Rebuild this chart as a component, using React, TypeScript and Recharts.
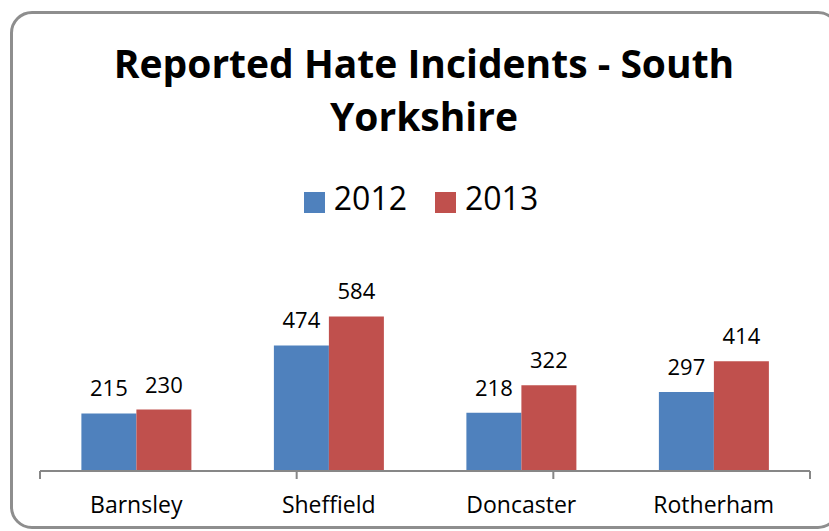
import { BarChart, Bar, XAxis, YAxis, Legend, LabelList } from 'recharts'

const FONT = '"Open Sans", sans-serif'
const AXIS = '#878787'
const BLUE = '#4F81BD'
const RED = '#C0504D'

const DISTRICTS = ['Barnsley', 'Sheffield', 'Doncaster', 'Rotherham']
const VALUES_2012 = [215, 474, 218, 297]
const VALUES_2013 = [230, 584, 322, 414]
const BOUNDARY_TICKS = [0, 1, 2, 3, 4]

const data = DISTRICTS.map((name, i) => ({
  name,
  y2012: VALUES_2012[i],
  y2013: VALUES_2013[i],
}))

function LegendContent({ payload }: { payload?: any[] }) {
  return (
    <div style={{ display: 'flex', justifyContent: 'center', paddingLeft: 13, fontFamily: FONT }}>
      {(payload || []).map((p, i) => (
        <div key={i} style={{ display: 'flex', alignItems: 'flex-end', marginRight: i === 0 ? 28 : 0 }}>
          <div style={{ width: 21, height: 21, background: p.color, marginRight: 9, marginBottom: 7 }} />
          <span style={{ fontSize: 32, lineHeight: '44px', color: '#000' }}>{p.value}</span>
        </div>
      ))}
    </div>
  )
}

export default function App() {
  return (
    <div style={{
      position: 'absolute', left: 0, top: 0, width: 829, height: 531,
      overflow: 'hidden', background: '#fff',
    }}>
      {/* rounded chart frame, runs past the right edge of the crop */}
      <div style={{
        position: 'absolute', left: 10, top: 11, width: 830, height: 518,
        border: '3px solid #8e8e8e', borderRadius: 22, boxSizing: 'border-box',
      }} />

      <div style={{
        position: 'absolute', left: 94, top: 36, width: 660,
        textAlign: 'center', fontFamily: FONT, fontWeight: 700,
        fontSize: 39, lineHeight: '53.4px', color: '#000',
      }}>
        Reported Hate Incidents - South Yorkshire
      </div>

      <div style={{ position: 'absolute', left: 0, top: 0 }}>
        <BarChart
          width={829}
          height={531}
          data={data}
          margin={{ top: 286, right: 19, bottom: 59, left: 40 }}
          barCategoryGap="21.5%"
          barGap={0}
        >
          {/* tick marks sit on the category boundaries */}
          <XAxis
            xAxisId="bounds"
            type="number"
            domain={[0, 4]}
            ticks={BOUNDARY_TICKS}
            height={1}
            tickFormatter={() => ''}
            tickSize={8}
            axisLine={{ stroke: AXIS, strokeWidth: 2 }}
            tickLine={{ stroke: AXIS, strokeWidth: 2 }}
          />
          <XAxis
            dataKey="name"
            height={1}
            axisLine={false}
            tickLine={false}
            tickSize={6}
            tickMargin={21}
            tick={{ fill: '#000', fontSize: 23, fontFamily: FONT }}
          />
          <YAxis hide domain={[0, 700]} />
          <Legend
            layout="horizontal"
            verticalAlign="middle"
            align="center"
            wrapperStyle={{ top: 176, left: 0, width: 829 }}
            content={<LegendContent />}
          />
          <Bar dataKey="y2012" name="2012" fill={BLUE} isAnimationActive={false}>
            <LabelList dataKey="y2012" position="top" offset={17} fill="#000" fontSize={22} fontFamily={FONT} />
          </Bar>
          <Bar dataKey="y2013" name="2013" fill={RED} isAnimationActive={false}>
            <LabelList dataKey="y2013" position="top" offset={17} fill="#000" fontSize={22} fontFamily={FONT} />
          </Bar>
        </BarChart>
      </div>
    </div>
  )
}
